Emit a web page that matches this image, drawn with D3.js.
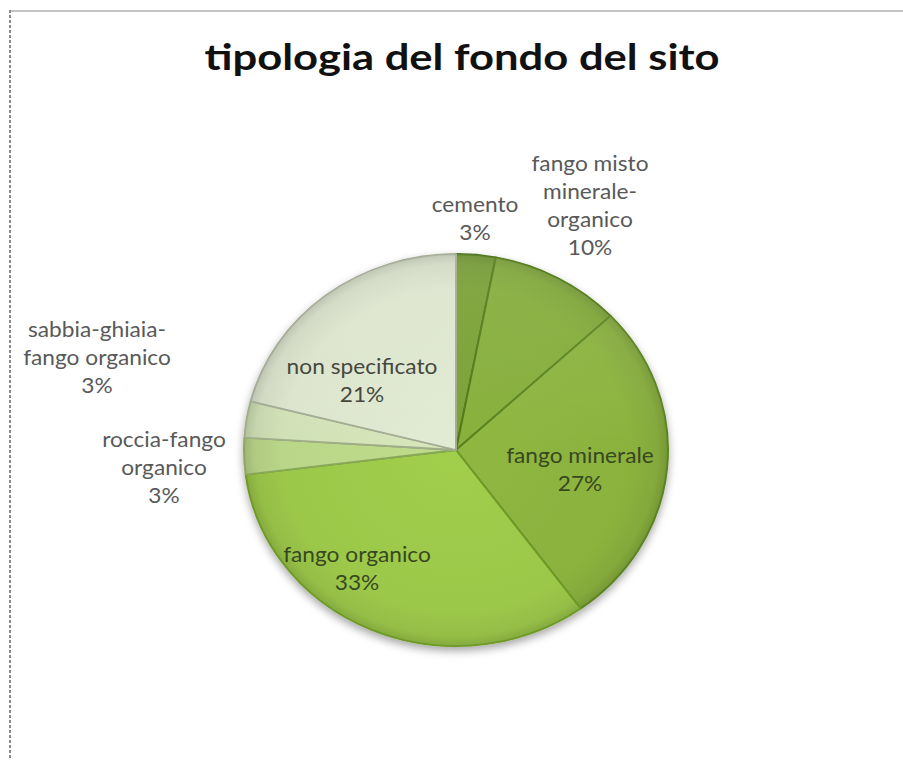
<!DOCTYPE html>
<html>
<head>
<meta charset="utf-8">
<script src="https://cdn.jsdelivr.net/npm/d3@7"></script>
<style>
  html, body { margin: 0; padding: 0; background: #fff; }
  svg { display: block; }
</style>
</head>
<body>
<svg id="chart" width="903" height="760"></svg>
<script>
// Site bottom type breakdown
const title = "tipologia del fondo del sito";
const categories = [
  "cemento",
  "fango misto minerale-organico",
  "fango minerale",
  "fango organico",
  "roccia-fango organico",
  "sabbia-ghiaia-fango organico",
  "non specificato"
];
const values = [3, 10, 27, 33, 3, 3, 21];
const labelLines = [
  ["cemento"],
  ["fango misto", "minerale-", "organico"],
  ["fango minerale"],
  ["fango organico"],
  ["roccia-fango", "organico"],
  ["sabbia-ghiaia-", "fango organico"],
  ["non specificato"]
];

// Presentation
const colors = ["#779f33", "#83ac39", "#8bb23e", "#9cc84a", "#bad688", "#d1e1b6", "#dce4cd"];
const edgeColors = ["#4a7214", "#507a18", "#5a8420", "#6e9a26", "#8aa85a", "#a0ad8a", "#a3ab94"];
const labelInside = [false, false, true, true, false, false, true];
const labelAt = [[475, 212], [590, 171], [580, 463], [357, 562], [164, 447], [97, 337], [362, 374]];
const lineStep = 28;

const svg = d3.select("#chart");
const W = 903, H = 760;
const cx = 456, cy = 450, R = 196, sx = 212 / 196;

// frame
svg.append("line").attr("x1", 9).attr("x2", W).attr("y1", 11).attr("y2", 11)
  .attr("stroke", "#c4c4c4").attr("stroke-width", 2);
svg.append("line").attr("x1", 10).attr("x2", 10).attr("y1", 10).attr("y2", H)
  .attr("stroke", "#8a8a8a").attr("stroke-width", 2).attr("stroke-dasharray", "3,2");

const defs = svg.append("defs");
const shadow = defs.append("filter").attr("id", "pieShadow")
  .attr("x", "-20%").attr("y", "-20%").attr("width", "140%").attr("height", "140%");
shadow.append("feDropShadow").attr("dx", 0).attr("dy", 4).attr("stdDeviation", 4)
  .attr("flood-color", "#000").attr("flood-opacity", 0.35);

colors.forEach((c, i) => {
  const g = defs.append("radialGradient").attr("id", "sl" + i)
    .attr("gradientUnits", "userSpaceOnUse").attr("cx", 0).attr("cy", 0).attr("r", R);
  g.append("stop").attr("offset", 0).attr("stop-color", d3.color(c).brighter(0.08));
  g.append("stop").attr("offset", 0.82).attr("stop-color", c);
  g.append("stop").attr("offset", 0.95).attr("stop-color", d3.color(c).darker(0.15));
  g.append("stop").attr("offset", 1).attr("stop-color", d3.color(c).darker(0.45));
});

const pie = d3.pie().sort(null).value(d => d)(values);
const arc = d3.arc().innerRadius(0).outerRadius(R);

const pieG = svg.append("g")
  .attr("transform", `translate(${cx},${cy}) scale(${sx},1)`);
pieG.append("g").attr("filter", "url(#pieShadow)")
  .selectAll("path").data(pie).join("path")
  .attr("d", arc)
  .attr("fill", (d, i) => `url(#sl${i})`)
  .attr("stroke", (d, i) => edgeColors[i])
  .attr("stroke-width", 1.8)
  .attr("stroke-linejoin", "round");

// soft top highlight over the disc
const hl = defs.append("linearGradient").attr("id", "hl").attr("x1", 0).attr("y1", 0).attr("x2", 0).attr("y2", 1);
hl.append("stop").attr("offset", 0).attr("stop-color", "#fff").attr("stop-opacity", 0.1);
hl.append("stop").attr("offset", 0.5).attr("stop-color", "#fff").attr("stop-opacity", 0);
pieG.append("circle").attr("r", R).attr("fill", "url(#hl)").attr("pointer-events", "none");

// title
svg.append("text")
  .attr("x", 462).attr("y", 70)
  .attr("text-anchor", "middle")
  .attr("font-family", "Lato, 'Open Sans', sans-serif")
  .attr("font-weight", "bold")
  .attr("font-size", 36)
  .attr("fill", "#111")
  .attr("textLength", 515)
  .attr("lengthAdjust", "spacingAndGlyphs")
  .text(title);

// data labels
const labels = svg.append("g").attr("font-family", "Lato, 'Open Sans', sans-serif").attr("font-size", 21);
pie.forEach((d, i) => {
  const lines = labelLines[i].concat([`${values[i]}%`]);
  const g = labels.append("g")
    .attr("transform", `translate(${labelAt[i][0]},${labelAt[i][1]}) scale(${sx},1)`);
  g.selectAll("text").data(lines).join("text")
    .attr("x", 0)
    .attr("y", (s, k) => k * lineStep)
    .attr("text-anchor", "middle")
    .attr("fill", labelInside[i] ? (i === 6 ? "#46483e" : "#37481f") : "#595959")
    .text(s => s);
});
</script>
</body>
</html>
